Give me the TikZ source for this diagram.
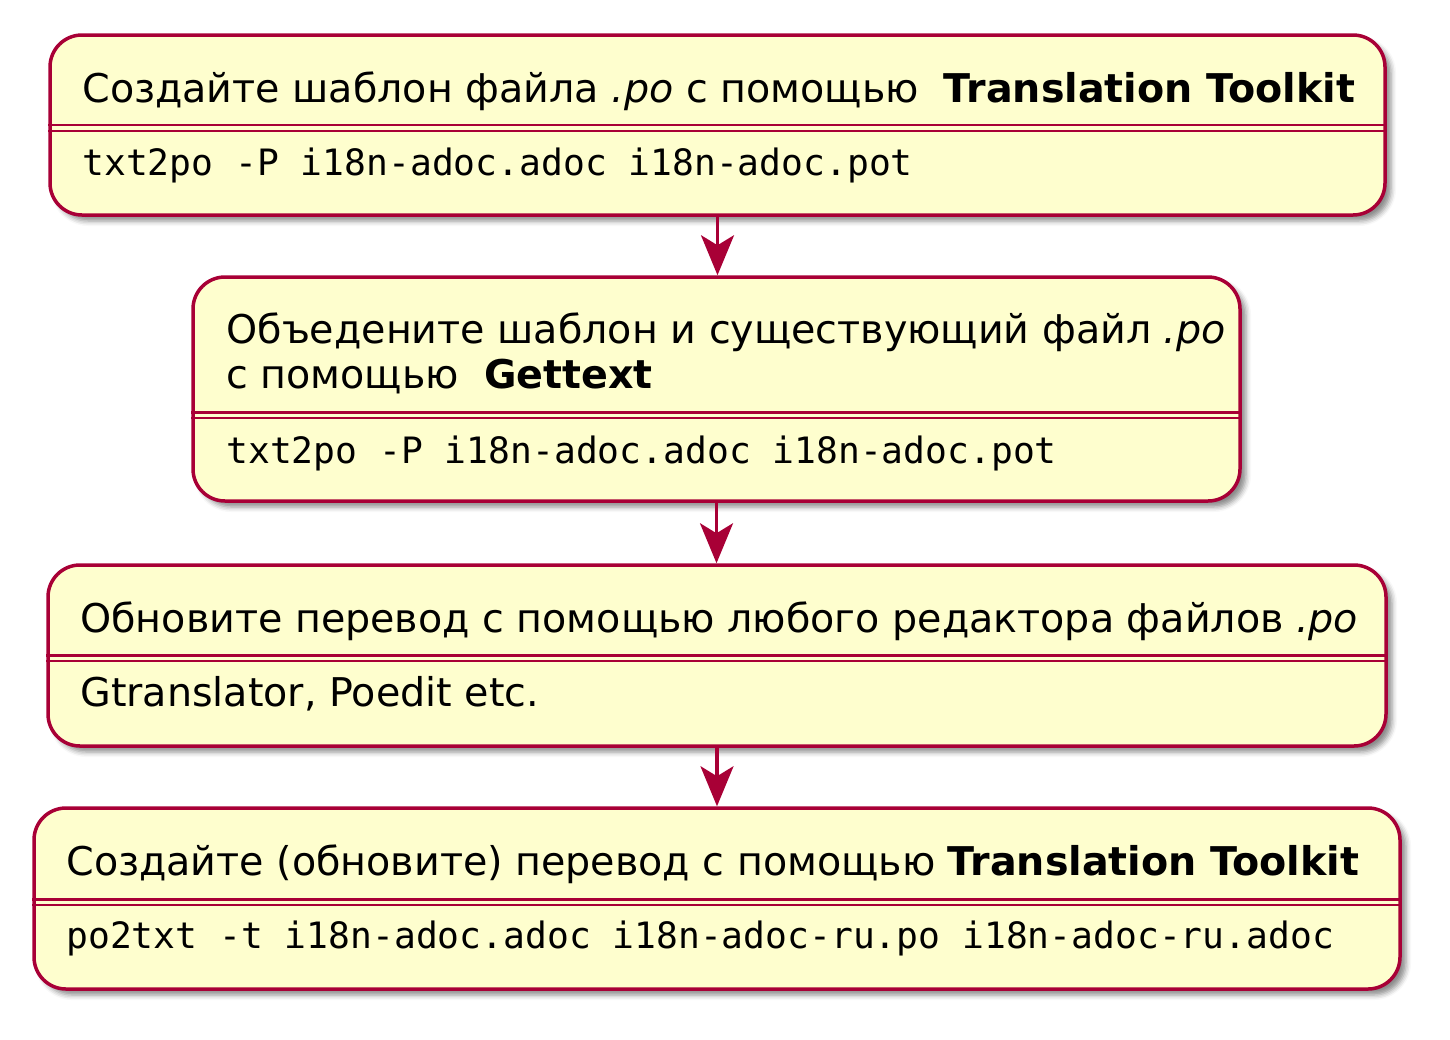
\documentclass[tikz,border=0pt]{standalone}
\usepackage{fontspec}
\setmainfont{DejaVu Sans}
\setmonofont{DejaVu Sans Mono}
\usetikzlibrary{arrows.meta,shadows.blur}
\definecolor{actfill}{HTML}{FEFECE}
\definecolor{actline}{HTML}{A80036}
\tikzset{
	activity/.style 2 args={draw=actline, fill=actfill, line width=1.75pt,
		rounded corners=16pt, inner sep=0pt,
		minimum width=#1*0.5pt, minimum height=#2*0.5pt,
		blur shadow={shadow xshift=3pt, shadow yshift=-3pt, shadow blur radius=2.5pt, shadow opacity=45}},
	sepline/.style={draw=actline, line width=1.3pt},
	titletext/.style={anchor=base west, inner sep=0pt, font=\fontsize{19.8pt}{23pt}\selectfont},
	desctext/.style={anchor=base west, inner sep=0pt, font=\fontsize{19.8pt}{23pt}\selectfont},
	codetext/.style={anchor=base west, inner sep=0pt, font=\fontsize{18.15pt}{22pt}\selectfont\ttfamily},
	flow/.style={draw=actline, line width=1.6pt, -{Stealth[length=20pt, width=16.5pt, inset=5pt]}}
}
\begin{document}
\begin{tikzpicture}[x=0.5pt, y=-0.5pt]
	\useasboundingbox (0,0) rectangle (1450,1039);
	%boxes
	\node[activity={1335}{180}] (create) at (717.5,125) {};
	\node[activity={1047}{224}] (merge) at (716.5,389) {};
	\node[activity={1338}{181}] (update) at (717,655.5) {};
	\node[activity={1366}{181}] (build) at (717,898.5) {};
	%separators
	\foreach \act/\ya/\yb in {create/125/131, merge/412.5/418, update/655.5/661, build/899.5/905}
	{
		\draw[sepline] (\act.west |- 0,\ya) -- (\act.east |- 0,\ya);
		\draw[sepline] (\act.west |- 0,\yb) -- (\act.east |- 0,\yb);
	}
	%texts
	\node[titletext] (createtitle) at (82,102)
	{Создайте шаблон файла \textit{.po} с помощью \ \textbf{Translation Toolkit}};
	\node[codetext] (createcode) at (82,175) {txt2po -P i18n-adoc.adoc i18n-adoc.pot};
	\node[titletext] (mergetitle) at (226,343)
	{Объедените шаблон и существующий файл \textit{.po}};
	\node[titletext] (mergetitlecont) at (226,388) {с помощью \ \textbf{Gettext}};
	\node[codetext] (mergecode) at (226,463) {txt2po -P i18n-adoc.adoc i18n-adoc.pot};
	\node[titletext] (updatetitle) at (80,632)
	{Обновите перевод с помощью любого редактора файлов \textit{.po}};
	\node[desctext] (updatedesc) at (80,706) {Gtranslator, Poedit etc.};
	\node[titletext] (buildtitle) at (66,875)
	{Создайте (обновите) перевод с помощью \textbf{Translation Toolkit}};
	\node[codetext] (buildcode) at (66,948) {po2txt -t i18n-adoc.adoc i18n-adoc-ru.po i18n-adoc-ru.adoc};
	%arrows
	\draw[flow] (create.south) -- (create.south |- merge.north);
	\draw[flow] (merge.south) -- (merge.south |- update.north);
	\draw[flow] (update.south) -- (update.south |- build.north);
\end{tikzpicture}
\end{document}
